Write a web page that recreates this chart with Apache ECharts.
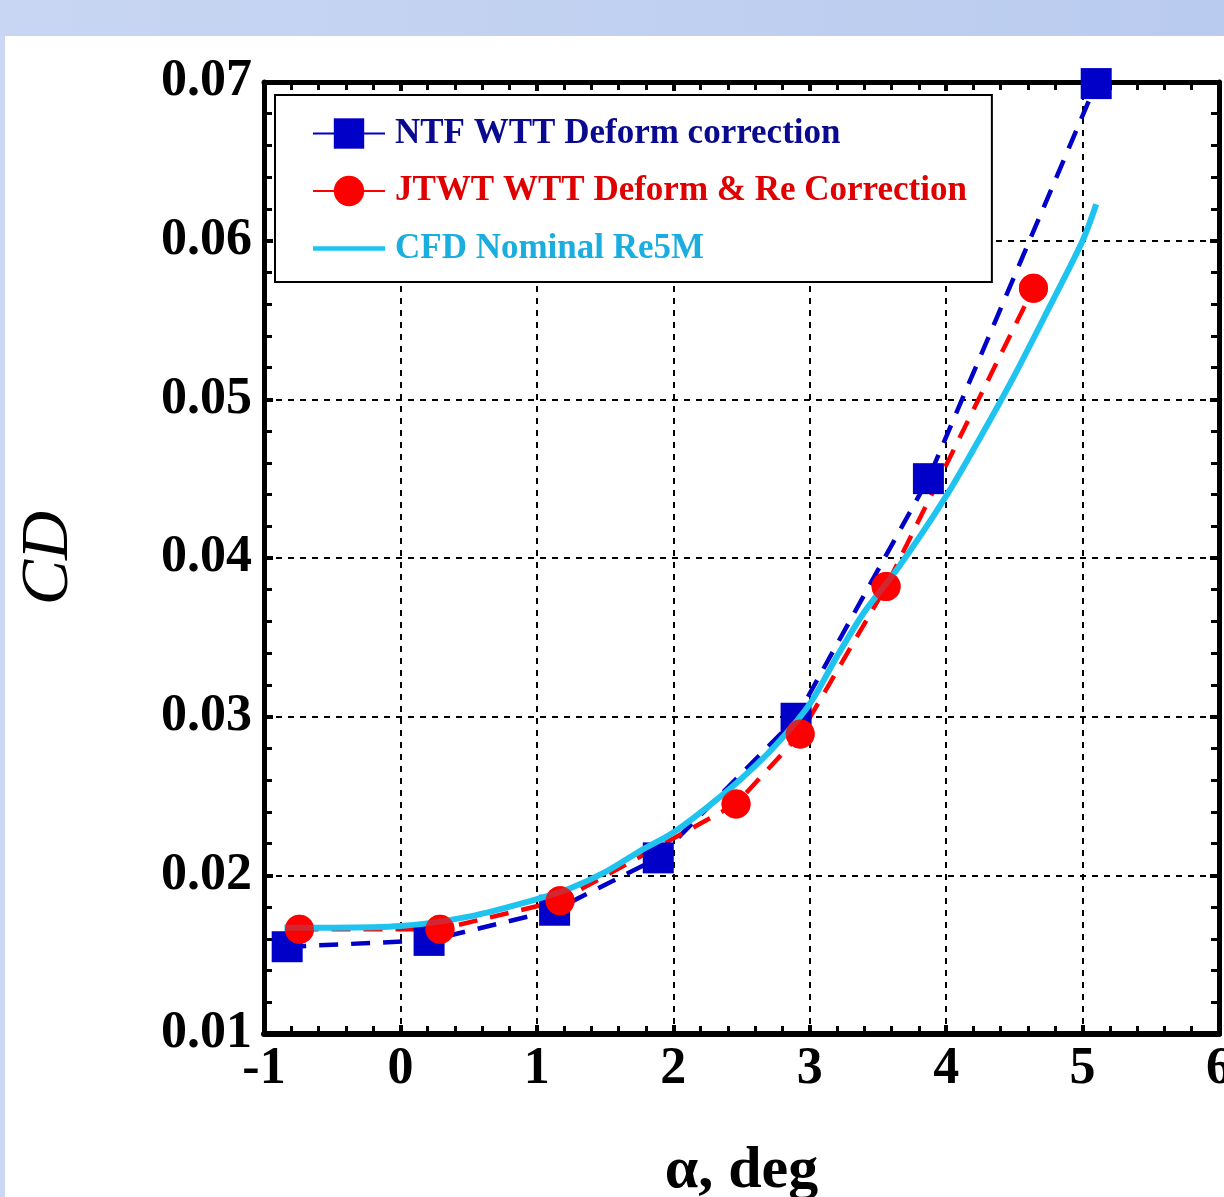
<!DOCTYPE html>
<html>
<head>
<meta charset="utf-8">
<script src="https://cdn.jsdelivr.net/npm/echarts@6/dist/echarts.min.js"></script>
<style>
html,body{margin:0;padding:0;background:#fff;overflow:hidden;width:1224px;height:1197px;}
#c{width:1224px;height:1197px;position:absolute;left:0;top:0;}
</style>
</head>
<body>
<div id="c"></div>
<script>
// ---- data ----
const seriesNames = ['NTF WTT Deform correction', 'JTWT WTT Deform & Re Correction', 'CFD Nominal Re5M'];
const alphaNTF = [-0.83, 0.21, 1.13, 1.89, 2.90, 3.87, 5.10];
const cdNTF    = [0.0155, 0.0159, 0.0178, 0.0211, 0.0299, 0.0450, 0.0699];
const alphaJTWT = [-0.74, 0.29, 1.17, 2.46, 2.93, 3.56, 4.64];
const cdJTWT    = [0.0166, 0.0166, 0.0184, 0.0245, 0.0289, 0.0382, 0.0570];
const alphaCFD = [-0.85, -0.5, 0, 0.5, 1.0, 1.25, 1.5, 1.75, 2.0, 2.25, 2.5, 2.75, 3.0, 3.2, 3.4, 3.65, 4.0, 4.25, 4.5, 4.75, 5.0, 5.1];
const cdCFD    = [0.0167, 0.0167, 0.0168, 0.0174, 0.0185, 0.0192, 0.0202, 0.0215, 0.0227, 0.0243, 0.0261, 0.0282, 0.0308, 0.0338, 0.0366, 0.0394, 0.0439, 0.0476, 0.0515, 0.0557, 0.0600, 0.0623];
const xTicks = [-1, 0, 1, 2, 3, 4, 5, 6];
const yTicks = [0.01, 0.02, 0.03, 0.04, 0.05, 0.06, 0.07];
const xTitle = 'α, deg';
const yTitle = 'CD';

const zip = (a, b) => a.map((v, i) => [v, b[i]]);
const FONT = '"Liberation Serif", "Times New Roman", serif';

const chart = echarts.init(document.getElementById('c'), null, {renderer: 'canvas', width: 1224, height: 1197});

const baseAxisLine = {show: true, onZero: false, lineStyle: {color: '#000', width: 5}};
const tick = {show: true, inside: true, length: 9, lineStyle: {color: '#000', width: 4}};
const minor = {show: true, splitNumber: 5, length: 8, lineStyle: {color: '#000', width: 3}};
const grid = {show: true, lineStyle: {color: '#000', width: 2, type: [6, 6]}};
const txtShadow = {textShadowColor: 'rgba(0,0,0,0.55)', textShadowOffsetX: 1, textShadowOffsetY: 1, textShadowBlur: 0};

const option = {
  backgroundColor: '#ffffff',
  animation: false,
  graphic: [
    {type: 'rect', left: 0, top: 0, z: -10, shape: {width: 1224, height: 36},
     style: {fill: new echarts.graphic.LinearGradient(0, 0, 1, 0, [{offset: 0, color: '#c8d6f2'}, {offset: 1, color: '#b9cbef'}])}},
    {type: 'rect', left: 0, top: 36, z: -10, shape: {width: 5, height: 1161}, style: {fill: '#cbd8f3'}}
  ],
  grid: {left: 264, right: 5, top: 82, bottom: 163, containLabel: false, outerBoundsMode: 'none'},
  legend: {
    orient: 'vertical',
    left: 275, top: 95,
    backgroundColor: '#fff',
    borderColor: '#000', borderWidth: 2,
    padding: [21, 25, 16, 37],
    itemWidth: 72, itemHeight: 38, itemGap: 22.5,
    lineStyle: {type: 'solid'},
    textStyle: {fontFamily: FONT, fontWeight: 'bold', fontSize: 35, padding: [0, 0, 0, 5], ...txtShadow},
    data: [
      {name: seriesNames[0], textStyle: {color: '#0a0a90', ...txtShadow}},
      {name: seriesNames[1], textStyle: {color: '#e00000', ...txtShadow}},
      {name: seriesNames[2], icon: 'path://M0,0H100V6H0Z', textStyle: {color: '#1aaee0', ...txtShadow}}
    ]
  },
  xAxis: [
    {type: 'value', min: xTicks[0], max: xTicks[xTicks.length - 1], interval: 1, position: 'bottom',
     name: xTitle, nameLocation: 'middle', nameGap: 107,
     nameTextStyle: {fontFamily: FONT, fontWeight: 'bold', fontSize: 60, color: '#000'},
     axisLine: {...baseAxisLine, lineStyle: {color: '#000', width: 6}},
     axisTick: tick, minorTick: minor, splitLine: grid,
     axisLabel: {show: true, margin: 10, fontFamily: FONT, fontWeight: 'bold', fontSize: 52, color: '#000',
       formatter: v => String(v)}},
    {type: 'value', min: xTicks[0], max: xTicks[xTicks.length - 1], interval: 1, position: 'top',
     axisLine: baseAxisLine, axisTick: tick, minorTick: minor, splitLine: {show: false}, axisLabel: {show: false}}
  ],
  yAxis: [
    {type: 'value', min: yTicks[0], max: yTicks[yTicks.length - 1], interval: 0.01, position: 'left',
     name: yTitle, nameLocation: 'middle', nameGap: 181,
     nameTextStyle: {fontFamily: FONT, fontStyle: 'italic', fontSize: 68, color: '#000'},
     axisLine: baseAxisLine, axisTick: tick, minorTick: minor, splitLine: grid,
     axisLabel: {show: true, margin: 12, fontFamily: FONT, fontWeight: 'bold', fontSize: 52, color: '#000',
       padding: [0, 0, 14, 0],
       formatter: v => v.toFixed(2)}},
    {type: 'value', min: yTicks[0], max: yTicks[yTicks.length - 1], interval: 0.01, position: 'right',
     axisLine: baseAxisLine, axisTick: tick, minorTick: minor, splitLine: {show: false}, axisLabel: {show: false}}
  ],
  series: [
    {name: seriesNames[0], type: 'line', xAxisIndex: 0, yAxisIndex: 0, z: 2,
     data: zip(alphaNTF, cdNTF), symbol: 'rect', symbolSize: 31, smooth: false,
     itemStyle: {color: '#0000c8'},
     lineStyle: {color: '#0000c8', width: 4.5, type: [19, 13]}},
    {name: seriesNames[1], type: 'line', xAxisIndex: 0, yAxisIndex: 0, z: 2,
     data: zip(alphaJTWT, cdJTWT), symbol: 'circle', symbolSize: 29, smooth: false,
     itemStyle: {color: '#ff0000'},
     lineStyle: {color: '#ff0000', width: 4.5, type: [19, 13]}},
    {name: seriesNames[2], type: 'line', xAxisIndex: 0, yAxisIndex: 0, z: 3,
     data: zip(alphaCFD, cdCFD), showSymbol: false, symbol: 'none', smooth: 0.3,
     itemStyle: {color: '#1ec3f0'},
     lineStyle: {color: '#1ec3f0', width: 6}},
    {name: 'JTWT markers', type: 'scatter', xAxisIndex: 0, yAxisIndex: 0, z: 4,
     data: zip(alphaJTWT, cdJTWT), symbol: 'circle', symbolSize: 29,
     itemStyle: {color: '#ff0000'}}
  ]
};
chart.setOption(option);
</script>
</body>
</html>
